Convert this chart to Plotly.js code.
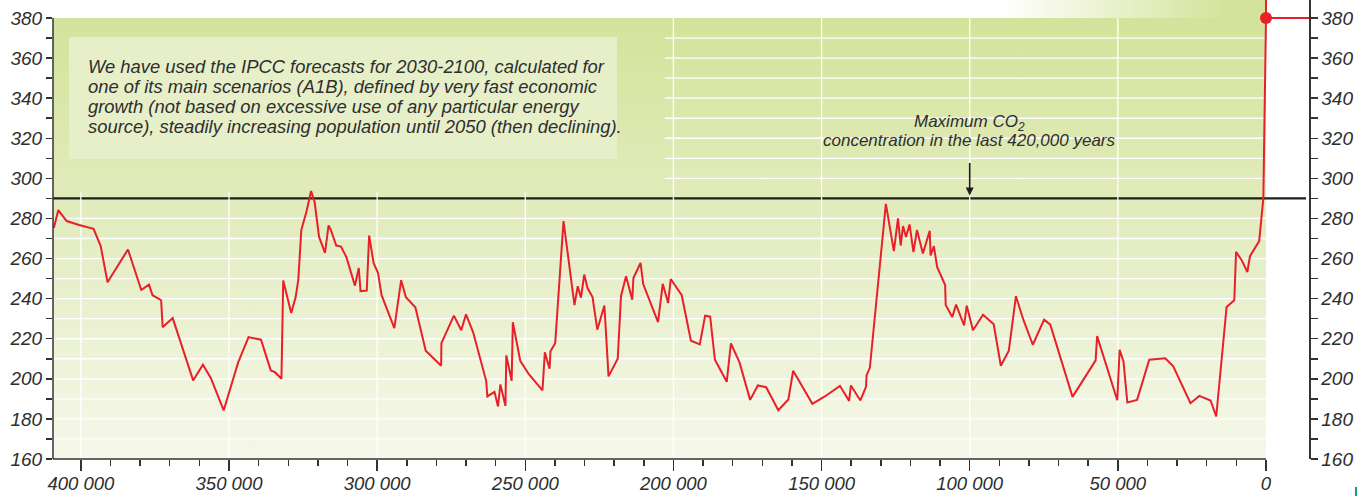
<!DOCTYPE html>
<html>
<head>
<meta charset="utf-8">
<script src="https://cdn.plot.ly/plotly-3.0.1.min.js"></script>
<style>html,body{margin:0;padding:0;background:#fff;}#chart{width:1370px;height:496px;}</style>
</head>
<body>
<div id="chart"></div>
<script>
// ---------------- DATA ----------------
const years = [409100,407600,404800,400600,395700,393300,391000,384100,379600,377000,375800,372900,372400,369000,362100,358800,356100,351800,346900,343400,339200,335900,334500,332300,331700,329000,327500,326600,325600,323800,322300,321100,319600,317600,316400,315600,313800,312200,310400,307500,306200,305600,303500,302700,301200,299700,298500,294200,291900,290300,287100,283600,278400,278300,274100,271600,270000,267600,263200,262800,260400,259200,258400,256700,256400,254600,254200,251700,248800,244200,243400,241800,241500,239900,237100,234900,233400,232300,231200,230100,229000,227300,225700,223300,221900,218800,217700,216000,213900,213500,211100,210200,205200,203600,201800,200900,197200,194100,191100,189300,187600,186000,182000,180600,177700,174100,171500,168700,164600,161200,159600,153100,148900,143800,140700,140100,136900,135000,134800,133700,128300,125600,124200,123300,122500,121500,120300,119000,117800,115800,113500,113200,112100,111000,108300,108100,105900,104600,101900,101000,98900,95500,91900,89500,86800,84400,81900,78700,74900,72800,65300,57500,57000,50200,49400,48100,46800,43500,39400,34000,31300,25500,22500,18700,16800,13300,10700,10100,8200,6300,5400,2300,900,0];
const co2 = [275.3,284.2,278.7,276.7,274.8,266.2,248.2,264.5,244.3,247.0,241.7,239.2,225.7,230.3,199.2,207.0,200.3,184.2,208.2,220.8,219.5,204.2,203.3,200.0,249.0,232.8,240.8,249.5,274.2,283.7,293.7,288.2,270.8,262.8,276.5,274.2,266.5,266.0,260.8,246.5,255.3,243.7,244.0,271.5,257.8,252.8,241.7,225.3,249.2,240.7,235.7,214.0,206.5,217.8,231.5,224.2,232.2,223.2,199.0,191.2,193.5,186.2,197.2,186.5,211.7,199.0,228.2,209.0,202.3,194.2,213.2,205.0,213.7,217.8,278.7,254.5,236.8,246.2,240.5,252.0,245.3,240.8,224.5,236.5,201.2,210.0,241.2,251.2,239.5,250.3,257.8,247.3,228.3,247.4,237.8,249.8,241.7,219.0,217.2,231.5,231.0,209.5,198.5,217.7,208.2,189.5,196.7,195.8,184.3,189.7,204.0,187.5,191.2,196.5,189.0,196.7,189.2,196.0,201.8,205.5,287.3,263.7,280.0,266.5,276.2,270.8,277.0,263.2,274.2,262.5,273.8,261.5,266.2,255.8,246.8,236.8,230.8,237.0,226.7,236.5,224.2,232.0,227.2,206.5,214.0,241.2,229.5,217.0,229.5,227.0,191.0,209.2,221.3,189.3,214.5,208.7,188.2,189.5,209.5,210.2,206.2,187.8,191.5,189.2,181.2,235.8,239.2,263.3,259.2,253.3,261.2,268.7,290.0,380.0];
const forecastYears = [-30, -100];
const forecastCo2 = [450, 700];
const todayYear = [0];
const todayCo2 = [380];
const maxCo2Level = 290;
const xTickVals = [400000,350000,300000,250000,200000,150000,100000,50000,0];
const xTickText = ['400 000','350 000','300 000','250 000','200 000','150 000','100 000','50 000','0'];
const yTickVals = [160,180,200,220,240,260,280,300,320,340,360,380];
const yMinorVals = [170,190,210,230,250,270,290,310,330,350,370];
const yGridVals = [170,180,190,200,210,220,230,240,250,260,270,280,300,310,320,330,340,350,360,370];
const xGridVals = [400000,350000,300000,250000,200000,150000,100000,50000];
const boxLines = [
  'We have used the IPCC forecasts for 2030-2100, calculated for',
  'one of its main scenarios (A1B), defined by very fast economic',
  'growth (not based on excessive use of any particular energy',
  'source), steadily increasing population until 2050 (then declining).'
];
const maxLabel1 = 'Maximum CO<sub>2</sub>';
const maxLabel2 = 'concentration in the last 420,000 years';

// ---------------- LAYOUT HELPERS ----------------
const W = 1370, H = 496;
const mL = 53, mR = 61, mT = 0, mB = 37;
const plotW = W - mL - mR, plotH = H - mT - mB;
const yMin = 160, yMax = 380;
const topPx = 18, bottomPx = H - mB;               // pixel rows of 380 and 160
const yTop = yMin + (bottomPx - 0) * (yMax - yMin) / (bottomPx - topPx);
const xMin = 409400;
const zeroPx = 1266, domEndPx = 1272;
const xScale = (zeroPx - mL) / xMin;               // px per year
const xRight = -(domEndPx - zeroPx) / xScale;
const D = (domEndPx - mL) / plotW;
const px2x = p => (p - mL) / plotW;
const px2y = p => (H - mB - p) / plotH;
const val2py = v => (v - yMin) / (yTop - yMin);
const FONT = 'Liberation Sans, Arial, Helvetica, sans-serif';
const RED = '#e8202a';
const TXT = '#2e2e2e';
const AX = '#333333';

function svgURI(svg){ return 'data:image/svg+xml;charset=utf-8,' + encodeURIComponent(svg); }
const bgImg = svgURI('<svg xmlns="http://www.w3.org/2000/svg" width="100" height="100" viewBox="0 0 100 100" preserveAspectRatio="none"><defs><linearGradient id="g" x1="0" y1="0" x2="0" y2="1"><stop offset="0" stop-color="#d4e39b"/><stop offset="0.5" stop-color="#e4edc2"/><stop offset="1" stop-color="#f5f8ea"/></linearGradient></defs><rect width="100" height="100" fill="url(#g)"/></svg>');
const topImg = svgURI('<svg xmlns="http://www.w3.org/2000/svg" width="100" height="100" viewBox="0 0 100 100" preserveAspectRatio="none"><defs><linearGradient id="h" x1="0" y1="0" x2="1" y2="0"><stop offset="0" stop-color="#ffffff"/><stop offset="0.85" stop-color="#d4e39b"/><stop offset="1" stop-color="#d4e39b"/></linearGradient></defs><rect width="100" height="100" fill="url(#h)"/></svg>');

const shapes = [];
// text box background
shapes.push({type:'rect', xref:'paper', yref:'paper', x0:px2x(69), x1:px2x(617), y0:px2y(159), y1:px2y(37), fillcolor:'#e7efc9', line:{width:0}, layer:'below'});
// grid lines (white); upper-left panel has no grid
xGridVals.forEach(v => {
  const top = v >= 250000 ? 293 : yMax;
  shapes.push({type:'line', xref:'x', yref:'y', x0:v, x1:v, y0:yMin, y1:top, line:{color:'#ffffff', width:1.3}, layer:'below'});
});
yGridVals.forEach(v => {
  const left = v >= 300 ? 202900 : xMin;
  shapes.push({type:'line', xref:'x', yref:'y', x0:left, x1:0, y0:v, y1:v, line:{color:'#ffffff', width:1.3}, layer:'below'});
});
// maximum CO2 line
shapes.push({type:'line', xref:'paper', yref:'paper', x0:0, x1:px2x(1306), y0:val2py(maxCo2Level), y1:val2py(maxCo2Level), line:{color:'#1e1e1e', width:2.2}, layer:'below'});
// left axis line (160..380) and bottom axis line (to year 0)
shapes.push({type:'line', xref:'paper', yref:'paper', x0:0, x1:0, y0:0, y1:val2py(yMax), line:{color:AX, width:1.5}});
shapes.push({type:'line', xref:'paper', yref:'paper', x0:0, x1:px2x(zeroPx), y0:0, y1:0, line:{color:AX, width:1.5}});
// red connector from today's point to right axis
shapes.push({type:'line', xref:'paper', yref:'paper', x0:px2x(zeroPx), x1:1, y0:val2py(yMax), y1:val2py(yMax), line:{color:RED, width:2}});
// small teal mark bottom-right
shapes.push({type:'line', xref:'paper', yref:'paper', x0:px2x(1356), x1:px2x(1356), y0:px2y(496), y1:px2y(487), line:{color:'#16a37f', width:2}});

const annotations = [];
const boxBaselines = [72.7, 93.3, 113.3, 133.3];
boxLines.forEach((t, i) => {
  annotations.push({xref:'paper', yref:'paper', x:px2x(86), y:px2y(boxBaselines[i]-6.4), xanchor:'left', yanchor:'middle', text:t, showarrow:false, font:{family:FONT, size:18.4, color:TXT, style:'italic'}});
});
annotations.push({xref:'x', yref:'paper', x:100000, y:px2y(129.3-6), xanchor:'center', yanchor:'middle', text:maxLabel1, showarrow:false, font:{family:FONT, size:17, color:TXT, style:'italic'}});
annotations.push({xref:'x', yref:'paper', x:100000, y:px2y(146.7-6), xanchor:'center', yanchor:'middle', text:maxLabel2, showarrow:false, font:{family:FONT, size:17, color:TXT, style:'italic'}});
annotations.push({xref:'x', yref:'y', x:100000, y:maxCo2Level, ax:0, ay:-37, text:'', showarrow:true, arrowhead:2, arrowsize:1, arrowwidth:1.6, arrowcolor:'#1e1e1e', standoff:3});

const yTickFont = {family:FONT, size:19, color:TXT, style:'italic'};
const xTickFont = {family:FONT, size:18.5, color:TXT, style:'italic'};

const traces = [
  {type:'scatter', mode:'lines', x:years.concat(forecastYears), y:co2.concat(forecastCo2), line:{color:RED, width:2}, cliponaxis:false, hoverinfo:'skip', xaxis:'x', yaxis:'y'},
  {type:'scatter', mode:'markers', x:todayYear, y:todayCo2, marker:{color:RED, size:12}, cliponaxis:false, hoverinfo:'skip', xaxis:'x', yaxis:'y2'}
];

const layout = {
  width:W, height:H,
  margin:{l:mL, r:mR, t:mT, b:mB, pad:0},
  paper_bgcolor:'#ffffff', plot_bgcolor:'rgba(0,0,0,0)',
  showlegend:false,
  xaxis:{domain:[0, D], range:[xMin, xRight], autorange:false, tickmode:'array', tickvals:xTickVals, ticktext:xTickText,
    ticks:'outside', ticklen:11, tickwidth:1.5, tickcolor:AX, showline:false, ticklabelstandoff:-3,
    showgrid:false, zeroline:false, tickfont:xTickFont,
    minor:{tickmode:'linear', tick0:0, dtick:10000, ticks:'outside', ticklen:6, tickwidth:1.5, tickcolor:AX, showgrid:false}},
  yaxis:{range:[yMin, yTop], autorange:false, tickmode:'array', tickvals:yTickVals, ticks:'outside', ticklen:6, tickwidth:1.5, tickcolor:AX,
    showline:false, showgrid:false, zeroline:false, tickfont:yTickFont,
    minor:{tickmode:'array', tickvals:yMinorVals, ticks:'outside', ticklen:6, tickwidth:1.5, tickcolor:AX, showgrid:false}},
  yaxis2:{overlaying:'y', side:'right', anchor:'free', position:1, range:[yMin, yTop], autorange:false, tickmode:'array', tickvals:yTickVals,
    ticks:'outside', ticklen:7, tickwidth:1.5, tickcolor:AX, showline:true, linecolor:AX, linewidth:1.5, showgrid:false, zeroline:false, tickfont:yTickFont,
    minor:{tickmode:'array', tickvals:yMinorVals, ticks:'outside', ticklen:7, tickwidth:1.5, tickcolor:AX, showgrid:false}},
  images:[
    {source:bgImg, xref:'paper', yref:'paper', x:0, y:px2y(topPx), sizex:px2x(zeroPx), sizey:px2y(topPx), xanchor:'left', yanchor:'top', sizing:'stretch', layer:'below'},
    {source:topImg, xref:'paper', yref:'paper', x:px2x(1000), y:1, sizex:px2x(zeroPx)-px2x(1000), sizey:1-px2y(topPx), xanchor:'left', yanchor:'top', sizing:'stretch', layer:'below'}
  ],
  shapes:shapes,
  annotations:annotations
};

Plotly.newPlot('chart', traces, layout, {staticPlot:true, displayModeBar:false});
</script>
</body>
</html>
